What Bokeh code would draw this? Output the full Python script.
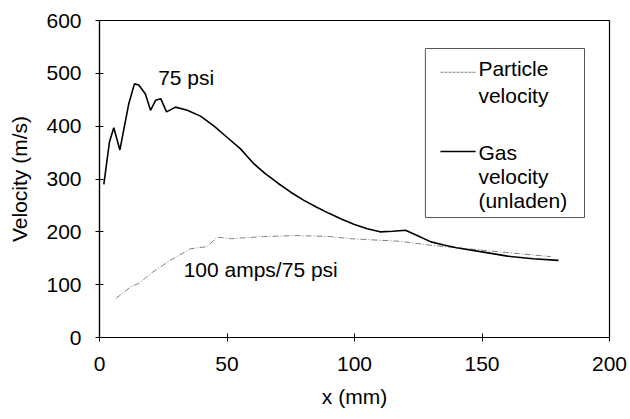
from bokeh.plotting import figure
from bokeh.models import FixedTicker, Range1d, Label, ColumnDataSource
from bokeh.embed import file_html
from bokeh.resources import INLINE

# Gas velocity (unladen), 75 psi
gas_x = [1.7, 3.9, 5.6, 8.0, 11.5, 13.7, 15.4, 18.0, 20.0, 22.0, 24.0, 26.3, 29.8, 34.4,
         39.6, 44.7, 50.0, 55.3, 60.5, 65, 70, 75, 80, 85, 90, 95, 100, 105, 110, 115,
         120, 125, 130, 135, 140, 150, 160, 170, 180]
gas_y = [290, 370, 397, 355, 443, 480, 478, 461, 430, 449, 452, 427, 436, 430,
         419, 401, 379, 357, 329, 310, 292, 275, 260, 247, 235, 224, 214, 206, 200, 201,
         203, 192, 181, 175, 170, 162, 154, 149, 146]

# Particle velocity, 100 amps / 75 psi
part_x = [6.5, 12, 16, 20, 27.8, 35.7, 42.2, 46.1, 51.4, 64.4, 77.5, 90.6, 98.4, 118,
          131, 150.7, 177]
part_y = [74, 95, 104, 121, 146, 168, 172, 190, 187, 191, 193, 191, 187, 182,
          174, 165, 153]

x_ticks = [0, 50, 100, 150, 200]
y_ticks = [0, 100, 200, 300, 400, 500, 600]

FONT = "Liberation Sans"
FS = "21px"

p = figure(width=630, height=419, output_backend="svg", toolbar_location=None,
           x_range=Range1d(0, 200), y_range=Range1d(0, 600),
           min_border_left=99, min_border_right=21, min_border_top=20, min_border_bottom=82)
p.background_fill_color = "white"
p.border_fill_color = "white"
p.outline_line_color = "black"
p.outline_line_alpha = 1
p.outline_line_width = 1.2
p.xgrid.visible = False
p.ygrid.visible = False

for ax, ticks in ((p.xaxis[0], x_ticks), (p.yaxis[0], y_ticks)):
    ax.ticker = FixedTicker(ticks=ticks)
    ax.minor_tick_line_color = None
    ax.major_tick_in = 4
    ax.major_tick_out = 4
    ax.axis_line_color = "black"
    ax.axis_line_width = 1.2
    ax.major_tick_line_color = "black"
    ax.major_label_text_font = FONT
    ax.major_label_text_font_size = FS
    ax.major_label_text_color = "black"
    ax.axis_label_text_font = FONT
    ax.axis_label_text_font_size = FS
    ax.axis_label_text_font_style = "normal"
    ax.axis_label_text_color = "black"

p.xaxis.axis_label = "x (mm)"
p.yaxis.axis_label = "Velocity (m/s)"
p.xaxis.major_label_standoff = 15
p.yaxis.major_label_standoff = 14
p.xaxis.axis_label_standoff = 11
p.yaxis.axis_label_standoff = 12

src_gas = ColumnDataSource(dict(x=gas_x, y=gas_y))
src_part = ColumnDataSource(dict(x=part_x, y=part_y))
p.line("x", "y", source=src_part, line_color="#808080", line_width=1, line_dash="6 2 1 2")
p.line("x", "y", source=src_gas, line_color="black", line_width=1.6)

# curve annotations
p.add_layout(Label(x=23, y=492, text="75 psi", text_font=FONT, text_font_size=FS,
                   text_baseline="middle", text_color="black"))
p.add_layout(Label(x=33, y=129, text="100 amps/75 psi", text_font=FONT, text_font_size=FS,
                   text_baseline="middle", text_color="black"))

# legend box
p.quad(left=[127.8], right=[190.2], top=[547], bottom=[227],
       fill_color="white", line_color="#555555", line_width=1)
p.segment(x0=[133.7], y0=[502], x1=[147.5], y1=[502], line_color="#808080", line_width=1,
          line_dash="3 1")
p.segment(x0=[133.7], y0=[352], x1=[147.5], y1=[352], line_color="black", line_width=1.6)
for yy, t in ((509, "Particle"), (458, "velocity"), (350, "Gas"), (305, "velocity"), (259, "(unladen)")):
    p.add_layout(Label(x=148.6, y=yy, text=t, text_font=FONT, text_font_size=FS,
                       text_baseline="middle", text_color="black"))

open("out.html", "w").write(file_html(p, INLINE))
